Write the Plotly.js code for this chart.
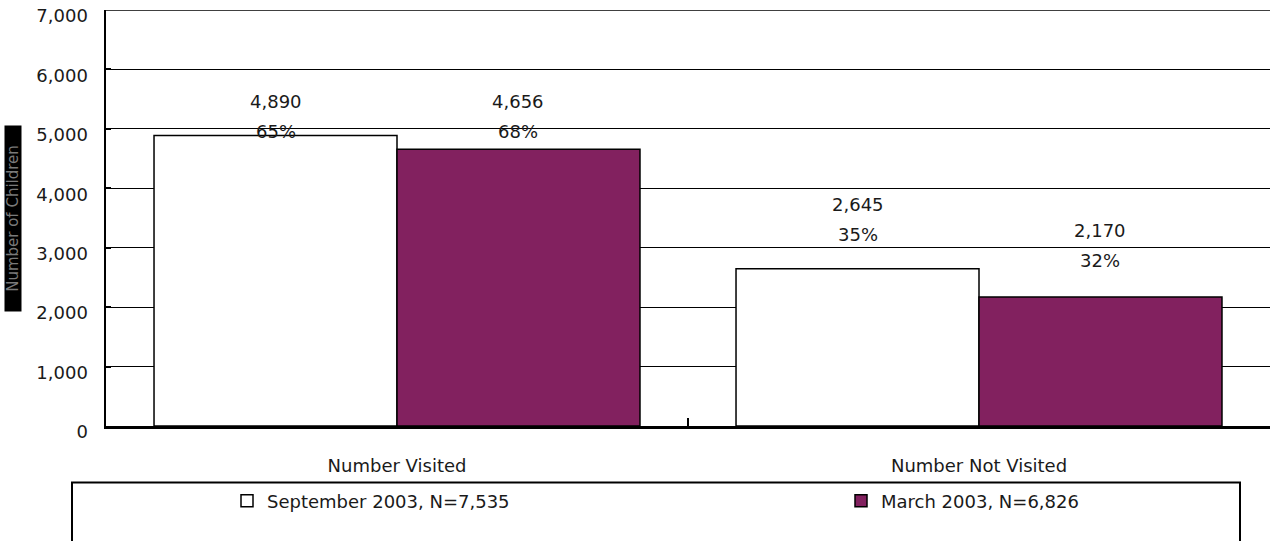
<!DOCTYPE html>
<html>
<head>
<meta charset="utf-8">
<script src="https://cdn.plot.ly/plotly-3.0.1.min.js"></script>
<style>
  html, body { margin: 0; padding: 0; background: #ffffff; }
  #chart { width: 1273px; height: 541px; }
</style>
</head>
<body>
<div id="chart"></div>
<script>
// ---- data ----
const categories = ["Number Visited", "Number Not Visited"];
const seriesNames = ["September 2003, N=7,535", "March 2003, N=6,826"];
const septValues = [4890, 2645];
const marchValues = [4656, 2170];
const septPercents = ["65%", "35%"];
const marchPercents = ["68%", "32%"];
const yAxisMax = 7000;
const yTickStep = 1000;
const yAxisTitle = "Number of Children";

// ---- styling ----
const FONT = "DejaVu Sans, Verdana, sans-serif";
const TXT = "#1a1a1a";
const PURPLE = "#82215F";
const bargap = 0.165;
const barW = (1 - bargap) / 2;
// pixel offsets (above bar top) of the percent line, per category per series
const pctShift = [[4, 18], [34, 37]];
const lineGap = 30;

const traces = [
  {
    type: "bar", name: seriesNames[0], x: categories, y: septValues,
    marker: { color: "#ffffff", line: { color: "#000000", width: 1.5 } },
    hoverinfo: "skip", legend: "legend"
  },
  {
    type: "bar", name: seriesNames[1], x: categories, y: marchValues,
    marker: { color: PURPLE, line: { color: "#000000", width: 1.5 } },
    hoverinfo: "skip", legend: "legend2"
  }
];

const annotations = [];
const allVals = [septValues, marchValues];
const allPcts = [septPercents, marchPercents];
for (let s = 0; s < 2; s++) {
  for (let c = 0; c < categories.length; c++) {
    const xPos = c + (s - 0.5) * barW;
    const sh = pctShift[c][s];
    annotations.push({
      xref: "x", yref: "y", x: xPos, y: allVals[s][c],
      text: allPcts[s][c], showarrow: false, yanchor: "middle",
      yshift: sh, font: { family: FONT, size: 18, color: TXT }
    });
    annotations.push({
      xref: "x", yref: "y", x: xPos, y: allVals[s][c],
      text: allVals[s][c].toLocaleString("en-US"), showarrow: false, yanchor: "middle",
      yshift: sh + lineGap, font: { family: FONT, size: 18, color: TXT }
    });
  }
}
// y axis title: dark box with dim text
annotations.push({
  xref: "paper", yref: "paper", x: -0.0799, y: 0.50,
  text: yAxisTitle, textangle: -90, showarrow: false,
  xanchor: "center", yanchor: "middle",
  width: 185, height: 16, bgcolor: "#000000", borderpad: 0,
  font: { family: FONT, size: 15, color: "#7a7a7a" }
});

const legendCommon = {
  orientation: "h", yanchor: "top", xanchor: "left",
  font: { family: FONT, size: 18, color: TXT },
  bgcolor: "rgba(0,0,0,0)", borderwidth: 0
};

const layout = {
  width: 1273, height: 541,
  margin: { l: 106, r: 3, t: 10, b: 114.5, autoexpand: false },
  paper_bgcolor: "#ffffff", plot_bgcolor: "#ffffff",
  barmode: "group", bargap: bargap, bargroupgap: 0,
  showlegend: true,
  legend: Object.assign({}, legendCommon, { x: (227 - 106) / 1164, y: -0.136 }),
  legend2: Object.assign({}, legendCommon, { x: (841 - 106) / 1164, y: -0.136 }),
  xaxis: {
    type: "category", categoryorder: "array", categoryarray: categories,
    tickson: "boundaries", ticks: "inside", ticklen: 8, tickwidth: 2, tickcolor: "#000000",
    showline: true, linecolor: "#000000", linewidth: 2.5,
    showgrid: false, zeroline: false,
    ticklabelstandoff: 22,
    tickfont: { family: FONT, size: 18, color: TXT }
  },
  yaxis: {
    range: [0, yAxisMax], tickmode: "linear", tick0: 0, dtick: yTickStep, tickformat: ",d",
    showline: true, linecolor: "#000000", linewidth: 2.5,
    showgrid: true, gridcolor: "#000000", gridwidth: 1,
    zeroline: false, ticks: "inside", ticklen: 5, tickwidth: 2, tickcolor: "#000000",
    ticklabelstandoff: 12, ticklabelshift: 6,
    tickfont: { family: FONT, size: 18, color: TXT }
  },
  annotations: annotations,
  shapes: [
    {
      type: "line", xref: "paper", yref: "y", x0: 0, x1: 1, y0: yAxisMax, y1: yAxisMax,
      line: { color: "#000000", width: 1.5 }, layer: "below"
    },
    {
      type: "rect", xref: "paper", yref: "paper",
      x0: (72 - 106) / 1164, x1: (1240 - 106) / 1164,
      y0: (426.5 - 483) / 416.5, y1: (426.5 - 560) / 416.5,
      line: { color: "#000000", width: 2 }, fillcolor: "rgba(0,0,0,0)", layer: "above"
    }
  ]
};

Plotly.newPlot("chart", traces, layout, { displayModeBar: false, staticPlot: true });
</script>
</body>
</html>
